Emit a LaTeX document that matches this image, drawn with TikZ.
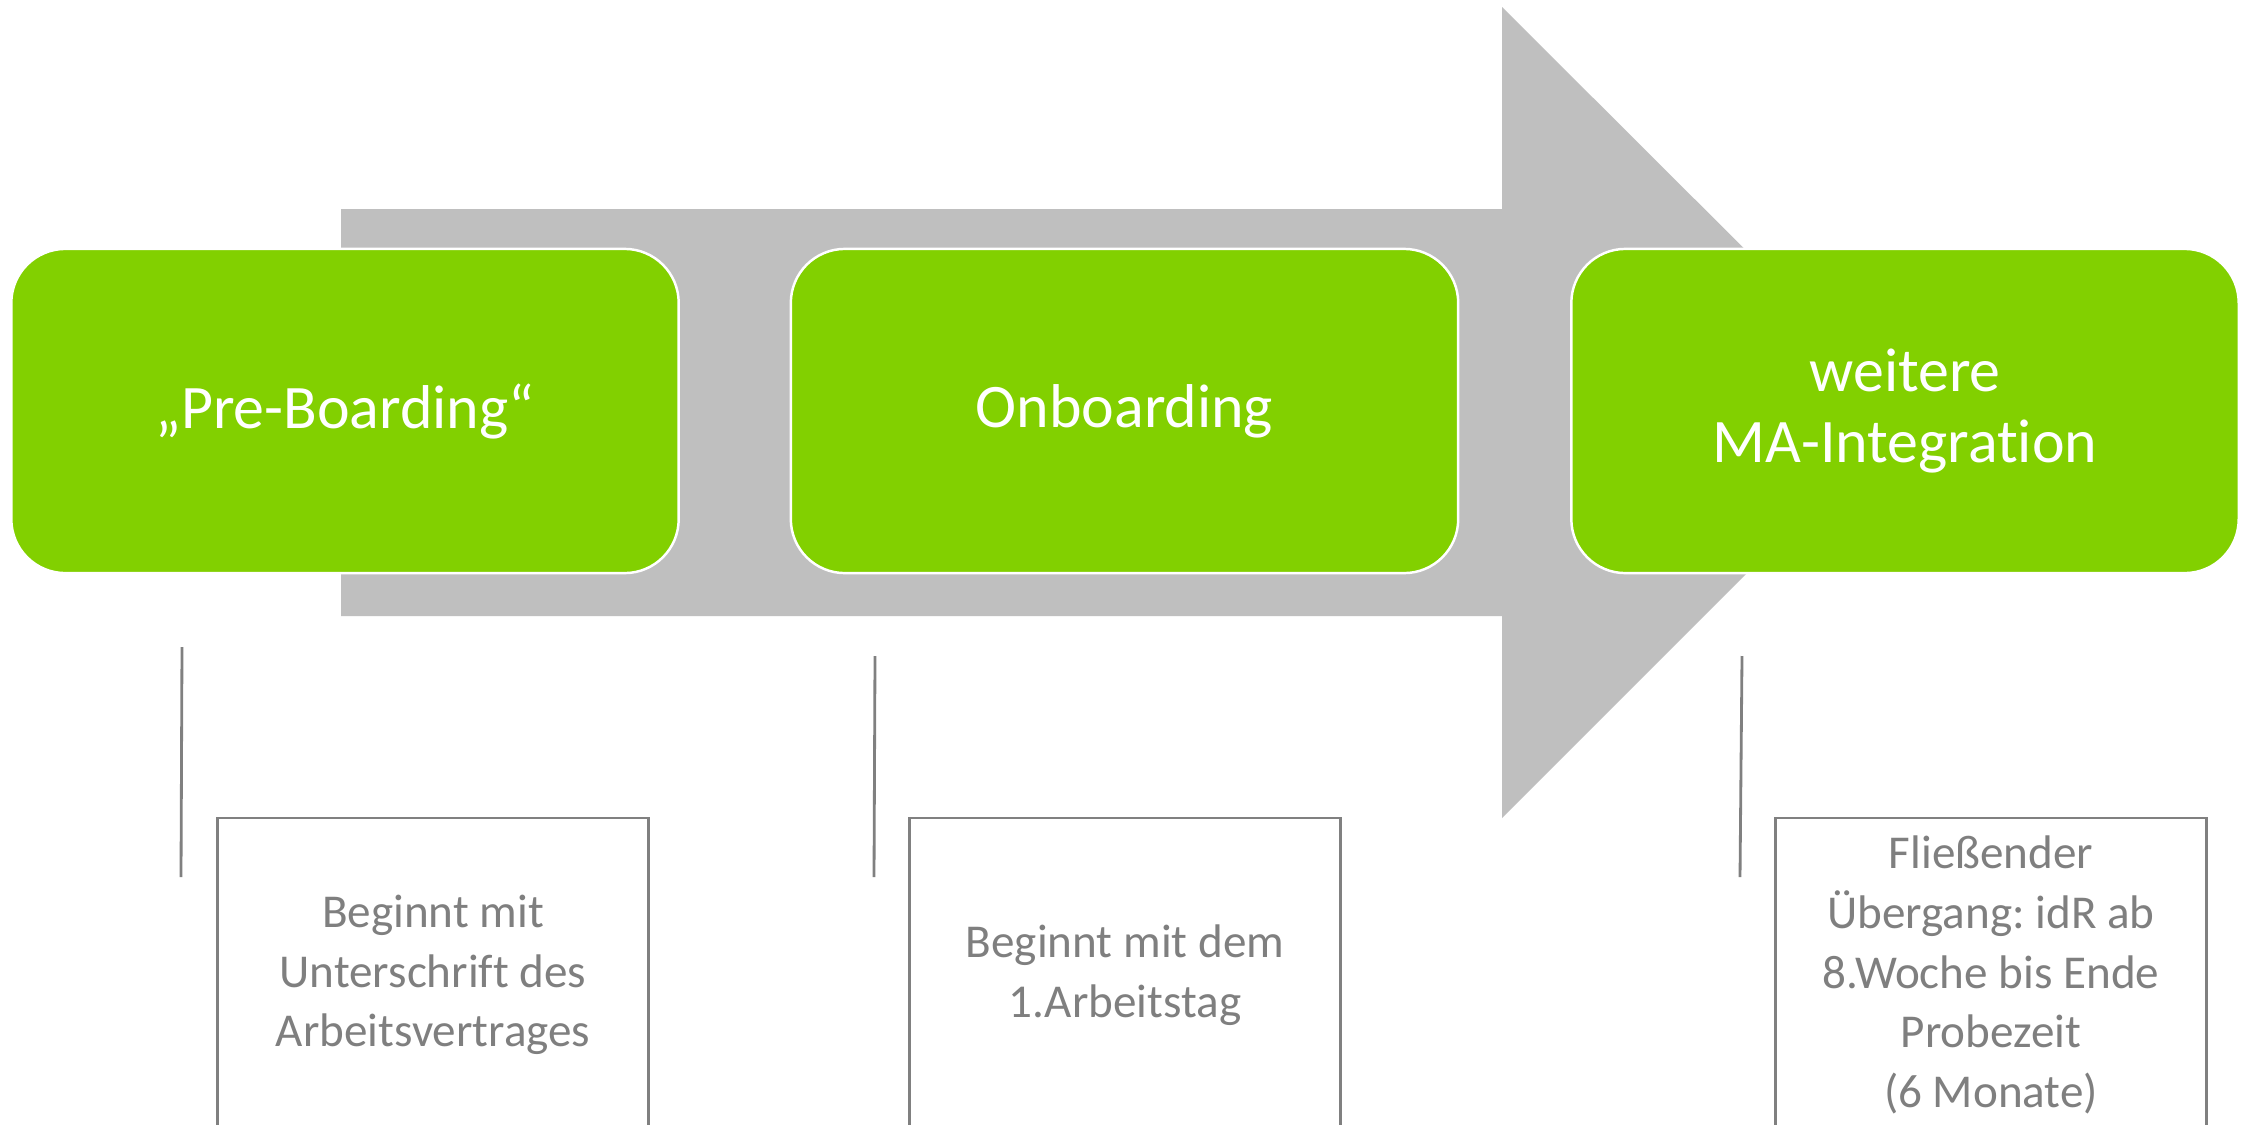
\documentclass[tikz,border=0pt]{standalone}
\usepackage{fontspec}
\setmainfont{Carlito}[Ligatures={NoCommon}]
\frenchspacing
\definecolor{arrowgray}{HTML}{BFBFBF}
\definecolor{stepgreen}{RGB}{130,208,0}
\definecolor{linegray}{HTML}{808080}
\definecolor{textgray}{HTML}{7F7F7F}
\tikzset{
  phasebox/.style={rectangle, rounded corners=0.54cm, fill=stepgreen, draw=white, line width=0.7pt,
    minimum width=6.67cm, minimum height=3.24cm, inner sep=0pt, text=white, align=center,
    font=\fontsize{17.6}{20.2}\selectfont},
  notebox/.style={rectangle, draw=linegray, line width=0.8pt, fill=white,
    minimum width=4.30cm, minimum height=3.14cm, inner sep=0pt, text=textgray, align=center,
    font=\fontsize{13.4}{17}\selectfont},
  tickline/.style={draw=linegray, line width=0.8pt}
}
\begin{document}
\begin{tikzpicture}[x=0.01cm, y=-0.01cm]
\clip (0,0) rectangle (2246,1124);
\fill[white] (0,0) rectangle (2246,1124);
% big arrow
\fill[arrowgray] (341,209) -- (1502,209) -- (1502,7) -- (1908,412) -- (1502,818) -- (1502,616) -- (341,616) -- cycle;
% phase boxes
\node[phasebox] (p1) at (345,411) {„Pre-Boarding“};
\node[phasebox] (p2) at (1124.5,411) {Onboarding};
\node[phasebox] (p3) at (1905,411) {weitere\\MA-Integration};
% note boxes
\node[notebox] (n1) at (433,975) {Beginnt mit\\Unterschrift des\\Arbeitsvertrages};
\node[notebox] (n2) at (1125,975) {Beginnt mit dem\\1.Arbeitstag};
\node[notebox] (n3) at (1991,975) {Fließender\\Übergang: idR ab\\8.Woche bis Ende\\Probezeit\\(6 Monate)};
% tick lines
\coordinate (t1a) at (182,647); \coordinate (t1b) at (181,877);
\coordinate (t2a) at (875,656); \coordinate (t2b) at (874,877);
\coordinate (t3a) at (1742,656); \coordinate (t3b) at (1740,877);
\draw[tickline] (t1a) -- (t1b);
\draw[tickline] (t2a) -- (t2b);
\draw[tickline] (t3a) -- (t3b);
\end{tikzpicture}
\end{document}
